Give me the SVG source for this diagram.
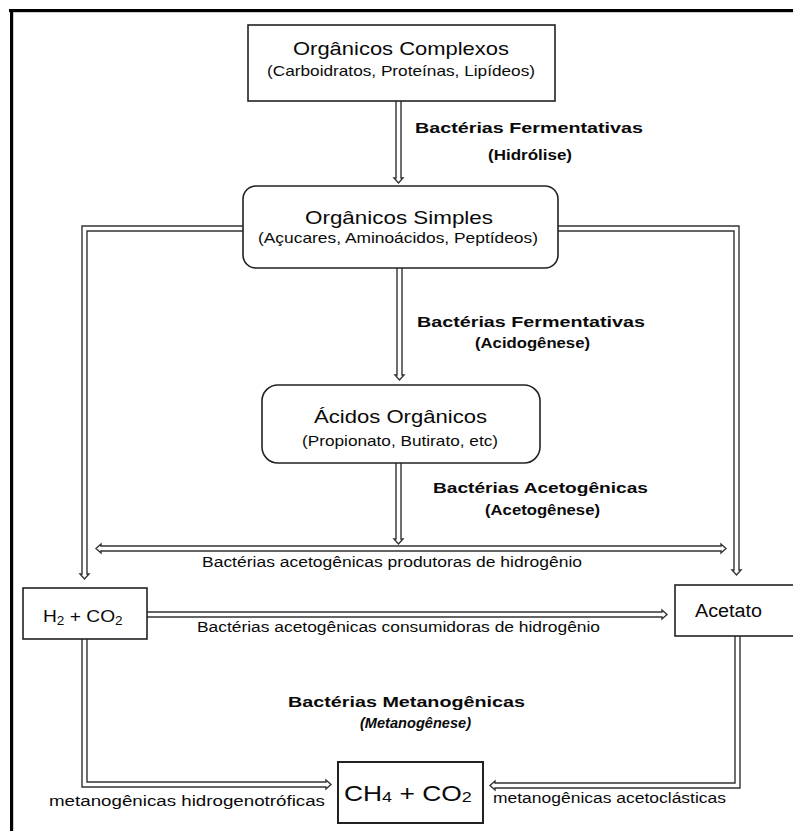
<svg xmlns="http://www.w3.org/2000/svg" width="793" height="831" viewBox="0 0 793 831">
<style>
text{font-family:"Liberation Sans",Arial,Helvetica,sans-serif;fill:#0a0a0a}
.t{font-size:19px}
.s{font-size:15px}
.b{font-size:15.5px;font-weight:bold}
.l{font-size:14px}
.box{fill:#fff;stroke:#222;stroke-width:1.6}
.con path{fill:none;stroke:#333;stroke-width:1.4;stroke-linejoin:miter}
</style>
<rect width="793" height="831" fill="#fff"/>
<g id="frame">
<rect x="9" y="9" width="784" height="3.2" fill="#000"/>
<rect x="10" y="9" width="3.2" height="822" fill="#000"/>
</g>
<g id="connectors" class="con">
<path d="M396,101 V178 H394 L398.5,183 L403,178 H401 V101"/>
<path d="M397,268 V375 H395 L399.5,380 L404,375 H402 V268"/>
<path d="M396,463 V539 H394 L398.5,544 L403,539 H401 V463"/>
<path d="M101,546 H721 V544 L726,548.5 L721,553 V551 H101 V553 L96,548.5 L101,544 Z"/>
<path d="M243,226 H82 V574 H80 L84.5,579 L89,574 H87 V231 H243"/>
<path d="M558,226 H739 V570 H741 L736.5,575 L732,570 H734 V231 H558"/>
<path d="M147,612 H662 V610 L667,614.5 L662,619 V617 H147"/>
<path d="M82,639 V787 H326 V789 L331,784.5 L326,780 V782 H87 V639"/>
<path d="M740,636 V788 H495 V790 L490,785.5 L495,781 V783 H735 V636"/>
</g>
<g id="labels">
<text class="b" x="415" y="133" textLength="228" lengthAdjust="spacingAndGlyphs">Bactérias Fermentativas</text>
<text class="b" x="488" y="160" textLength="84" lengthAdjust="spacingAndGlyphs">(Hidrólise)</text>
<text class="b" x="417" y="327" textLength="228" lengthAdjust="spacingAndGlyphs">Bactérias Fermentativas</text>
<text class="b" x="475" y="348" textLength="115" lengthAdjust="spacingAndGlyphs">(Acidogênese)</text>
<text class="b" x="433" y="493" textLength="215" lengthAdjust="spacingAndGlyphs">Bactérias Acetogênicas</text>
<text class="b" x="485" y="515" textLength="115" lengthAdjust="spacingAndGlyphs">(Acetogênese)</text>
<text class="l" x="202" y="567" textLength="380" lengthAdjust="spacingAndGlyphs">Bactérias acetogênicas produtoras de hidrogênio</text>
<text class="l" x="197" y="632" textLength="403" lengthAdjust="spacingAndGlyphs">Bactérias acetogênicas consumidoras de hidrogênio</text>
<text class="b" x="288" y="707" textLength="237" lengthAdjust="spacingAndGlyphs">Bactérias Metanogênicas</text>
<text class="b" x="360" y="728" font-style="italic" textLength="111" lengthAdjust="spacingAndGlyphs">(Metanogênese)</text>
<text class="l" x="49" y="806" textLength="276" lengthAdjust="spacingAndGlyphs">metanogênicas hidrogenotróficas</text>
<text class="l" x="493" y="803" textLength="233" lengthAdjust="spacingAndGlyphs">metanogênicas acetoclásticas</text>
</g>
<g id="organicos-complexos">
<rect class="box" x="248" y="25" width="307" height="76"/>
<text class="t" x="293" y="55" textLength="216" lengthAdjust="spacingAndGlyphs">Orgânicos Complexos</text>
<text class="s" x="267" y="76" textLength="268" lengthAdjust="spacingAndGlyphs">(Carboidratos, Proteínas, Lipídeos)</text>
</g>
<g id="organicos-simples">
<rect class="box" x="243" y="186" width="315" height="82" rx="13"/>
<text class="t" x="305" y="224" textLength="188" lengthAdjust="spacingAndGlyphs">Orgânicos Simples</text>
<text class="s" x="258" y="243" textLength="280" lengthAdjust="spacingAndGlyphs">(Açucares, Aminoácidos, Peptídeos)</text>
</g>
<g id="acidos-organicos">
<rect class="box" x="262" y="385" width="278" height="78" rx="16"/>
<text class="t" x="314" y="423" textLength="173" lengthAdjust="spacingAndGlyphs">Ácidos Orgânicos</text>
<text class="s" x="302" y="446" textLength="196" lengthAdjust="spacingAndGlyphs">(Propionato, Butirato, etc)</text>
</g>
<g id="h2-co2">
<rect class="box" x="23" y="588" width="124" height="51"/>
<text transform="translate(43,622) scale(1.13,1)" font-size="17">H<tspan font-size="12" dy="2.5">2</tspan><tspan dy="-2.5"> + CO</tspan><tspan font-size="12" dy="2.5">2</tspan></text>
</g>
<g id="acetato">
<rect class="box" x="675" y="585" width="125" height="51"/>
<text x="695" y="617" font-size="18" textLength="67" lengthAdjust="spacingAndGlyphs">Acetato</text>
</g>
<g id="ch4-co2">
<rect class="box" x="338" y="762" width="145" height="61" style="stroke-width:2"/>
<text transform="translate(344,801) scale(1.2,1)" font-size="22">CH<tspan font-size="15" dy="1">4</tspan><tspan dy="-1"> + CO</tspan><tspan font-size="15" dy="1">2</tspan></text>
</g>
</svg>
